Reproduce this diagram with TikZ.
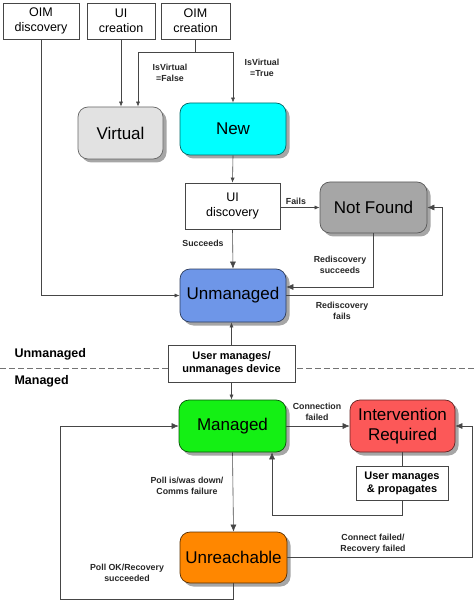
\documentclass[tikz,border=0pt]{standalone}
\usepackage{fontspec}
\setmainfont{Liberation Sans}
\usetikzlibrary{arrows.meta,shadows,calc}
\definecolor{lnc}{RGB}{70,70,70}
\definecolor{cvirt}{RGB}{226,226,226}
\definecolor{cnew}{RGB}{0,255,255}
\definecolor{cnf}{RGB}{166,166,166}
\definecolor{cunm}{RGB}{110,150,232}
\definecolor{cman}{RGB}{20,240,20}
\definecolor{cir}{RGB}{252,88,88}
\definecolor{cunr}{RGB}{255,135,0}
\tikzset{
  plainbox/.style={draw=lnc, fill=white, line width=0.6pt, inner sep=0pt, align=center,
    font=\fontsize{12.5}{15}\selectfont},
  infobox/.style={draw=lnc, fill=white, line width=0.6pt, inner sep=0pt, align=center,
    font=\fontsize{11}{12.8}\selectfont\bfseries},
  state/.style={rounded corners=10pt, line width=0.7pt, inner sep=0pt, align=center,
    font=\fontsize{17}{20}\selectfont,
    drop shadow={shadow xshift=3.5pt, shadow yshift=-3.5pt, fill=black!35, opacity=1}},
  conn/.style={draw=lnc, line width=0.6pt},
  arr/.style={conn, -{Latex[length=7pt,width=6pt]}},
  sarr/.style={conn, -{Latex[length=5pt,width=4pt]}},
  elabel/.style={font=\fontsize{8.8}{11}\selectfont\bfseries, align=center, text=black!85},
  seclabel/.style={font=\fontsize{12.5}{14}\selectfont\bfseries, anchor=west},
}
\begin{document}
\begin{tikzpicture}[x=1pt,y=-1pt]
\useasboundingbox (0,0) rectangle (474,601);
% dashed separator
\draw[draw=black!55, dashed, dash pattern=on 6pt off 3pt, line width=0.6pt] (0,368) -- (474,368);
\node[seclabel] (secU) at (11,354) {Unmanaged};
\node[seclabel] (secM) at (11,381) {Managed};

% top boxes
\node[plainbox, minimum width=76pt, minimum height=36pt] (oimd) at (41,21) {OIM\\discovery};
\node[plainbox, minimum width=68pt, minimum height=36pt] (uic) at (121,21) {UI\\creation};
\node[plainbox, minimum width=69pt, minimum height=36pt] (oimc) at (195.5,21) {OIM\\creation};

% states
\node[state, fill=cvirt, draw=black!60, minimum width=85pt, minimum height=52pt] (virtual) at (120.5,133) {Virtual};
\node[state, fill=cnew, draw=cnew!40!black, minimum width=106pt, minimum height=52pt] (new) at (233,129) {New};
\node[plainbox, minimum width=95pt, minimum height=46pt] (uid) at (232.5,206) {UI\\discovery};
\node[state, fill=cnf, draw=black!65, minimum width=107pt, minimum height=51pt] (notfound) at (373.5,207.5) {Not Found};
\node[state, fill=cunm, draw=cunm!40!black, minimum width=106pt, minimum height=53pt] (unmanaged) at (233,295.5) {Unmanaged};
\node[infobox, minimum width=127pt, minimum height=37pt] (umb) at (231.5,363.5) {User manages/\\unmanages device};
\node[state, fill=cman, draw=cman!35!black, minimum width=107pt, minimum height=52pt] (managed) at (232.5,426) {Managed};
\node[state, fill=cir, draw=cir!40!black, minimum width=105pt, minimum height=52pt] (ir) at (402.5,426) {Intervention\\Required};
\node[infobox, minimum width=92pt, minimum height=34pt] (ump) at (402,483) {User manages\\\& propagates};
\node[state, fill=cunr, draw=cunr!35!black, minimum width=107pt, minimum height=51pt] (unreach) at (233.5,557.5) {Unreachable};

% corner coordinates
\coordinate (j1) at (195.5,52);
\coordinate (jv) at (138,52);
\coordinate (jn) at (233,52);
\coordinate (c1) at (373.5,287);
\coordinate (c2) at (442,295.5);
\coordinate (c4) at (272,515);
\coordinate (c5) at (472,557.5);
\coordinate (c6) at (233.5,599);
\coordinate (c7) at (60,599);

% connectors
\draw[sarr] (oimd.south) |- (unmanaged.west);
\draw[sarr] (uic.south) -- (uic.south |- virtual.north);
\draw[conn] (oimc.south) -- (j1);
\draw[sarr] (j1) -- (jv) -- (jv |- virtual.north);
\draw[sarr] (j1) -- (jn) -- (new.north);
\node[elabel] (lf) at (170,73) {IsVirtual\\=False};
\node[elabel] (lt) at (262,68) {IsVirtual\\=True};

\draw[sarr] (new.south) -- (uid.north);
\draw[sarr] (uid.east |- notfound.west) -- (notfound.west);
\node[elabel] (lfails) at (296,201) {Fails};
\draw[arr] (uid.south) -- (unmanaged.north);
\node[elabel] (lsucc) at (203,243) {Succeeds};
\draw[arr] (notfound.south) -- (c1) -- (c1 -| unmanaged.east);
\node[elabel] (lrs) at (340,265) {Rediscovery\\succeeds};
\draw[arr] (unmanaged.east) -- (c2) |- (notfound.east);
\node[elabel] (lrf) at (342,311) {Rediscovery\\fails};

\draw[sarr] (umb.north) -- (umb.north |- unmanaged.south);
\draw[sarr] (umb.south) -- (umb.south |- managed.north);

\draw[arr] (managed.east) -- (ir.west);
\node[elabel] (lcf) at (317,412) {Connection\\failed};
\draw[conn] (ir.south -| ump.north) -- (ump.north);
\draw[arr] (ump.south) |- (c4) -- (c4 |- managed.south);
\draw[arr] (managed.south) -- (unreach.north);
\node[elabel] (lpoll) at (187,486) {Poll is/was down/\\Comms failure};
\draw[arr] (unreach.east) -- (c5) |- (ir.east);
\node[elabel] (lcon) at (373,544) {Connect failed/\\Recovery failed};
\draw[arr] (unreach.south) -- (c6) -- (c7) |- (managed.west);
\node[elabel] (lok) at (127,573) {Poll OK/Recovery\\succeeded};
\end{tikzpicture}
\end{document}
